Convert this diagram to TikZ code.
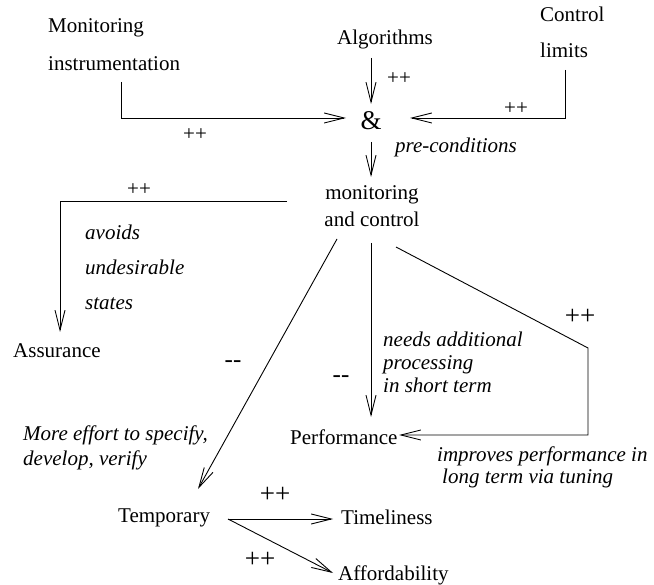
\documentclass[tikz,border=0pt]{standalone}
\usepackage{fontspec}
\setmainfont{Liberation Serif}
\usetikzlibrary{arrows.meta}
\begin{document}
\begin{tikzpicture}[x=1pt,y=-1pt,
  lbl/.style={inner sep=0pt, anchor=base west, font=\fontsize{21}{25}\selectfont},
  note/.style={lbl, font=\fontsize{21}{25}\selectfont\itshape},
  sign/.style={inner sep=0pt, font=\fontsize{21}{25}\selectfont},
  bigsign/.style={inner sep=0pt, font=\fontsize{27}{30}\selectfont},
  minus/.style={inner sep=0pt, anchor=base, font=\fontsize{25}{30}\selectfont},
  link/.style={line width=0.9pt, line join=miter},
  arr/.style={link, -{Straight Barb[length=20pt,width=10pt]}}]
\useasboundingbox (0,0) rectangle (654,585);

% sources
\node[lbl] (mon1) at (48,33) {Monitoring};
\node[lbl] (mon2) at (48,71) {instrumentation};
\node[lbl] (alg) at (337,45) {Algorithms};
\node[lbl] (ctl1) at (540,22) {Control};
\node[lbl] (ctl2) at (540,58) {limits};

% conjunction and the central node
\node[inner sep=0pt, anchor=base, font=\fontsize{27}{30}\selectfont] (and) at (371,130) {\&};
\node[lbl, anchor=base] (mc1) at (372,200) {monitoring};
\node[lbl, anchor=base] (mc2) at (372,227) {and control};

% effects
\node[lbl] (assur) at (13,358) {Assurance};
\node[lbl] (perf) at (290,445) {Performance};
\node[lbl] (temp) at (118,522) {Temporary};
\node[lbl] (time) at (341,525) {Timeliness};
\node[lbl] (afford) at (338,580) {Affordability};

% annotations
\node[note] (pre) at (395,153) {pre-conditions};
\node[note] (av1) at (85,240) {avoids};
\node[note] (av2) at (85,275) {undesirable};
\node[note] (av3) at (85,310) {states};
\node[note] (nd1) at (383,347) {needs additional};
\node[note] (nd2) at (383,370) {processing};
\node[note] (nd3) at (383,393) {in short term};
\node[note] (me1) at (23,441) {More effort to specify,};
\node[note] (me2) at (23,466) {develop, verify};
\node[note] (ip1) at (437,462) {improves performance in};
\node[note] (ip2) at (442,484) {long term via tuning};

% signs
\node[sign] (s1) at (399,79) {++};
\node[sign] (s2) at (516,109) {++};
\node[sign] (s3) at (195,135) {++};
\node[sign] (s4) at (139,190) {++};
\node[minus] (s5) at (233,368) {-{}-};
\node[minus] (s6) at (341,383) {-{}-};
\node[bigsign] (s7) at (580,317) {++};
\node[bigsign] (s8) at (275,495) {++};
\node[bigsign] (s9) at (260,560) {++};

% connector end points
\coordinate (miOut) at (121,82);
\coordinate (miBend) at (121,118);
\coordinate (andW) at (346,118);
\coordinate (algOut) at (371,58);
\coordinate (andN) at (371,104);
\coordinate (clOut) at (565,70);
\coordinate (clBend) at (565,118);
\coordinate (andE) at (410,118);
\coordinate (andS) at (371,142);
\coordinate (mcN) at (371,177);
\coordinate (mcW) at (287,201);
\coordinate (asBend) at (60,201);
\coordinate (asN) at (60,332);
\coordinate (mcSW) at (337,239);
\coordinate (tempN) at (198,489);
\coordinate (mcS) at (371,243);
\coordinate (perfN) at (371,417);
\coordinate (mcSE) at (396,247);
\coordinate (rBend1) at (588,348);
\coordinate (rBend2) at (588,435);
\coordinate (perfE) at (399,435);
\coordinate (tempE) at (228,519);
\coordinate (timeW) at (333,519);
\coordinate (affW) at (333,573);

% connectors
\draw[arr] (miOut) -- (miBend) -- (andW);
\draw[arr] (algOut) -- (andN);
\draw[arr] (clOut) -- (clBend) -- (andE);
\draw[arr] (andS) -- (mcN);
\draw[arr] (mcW) -- (asBend) -- (asN);
\draw[arr] (mcSW) -- (tempN);
\draw[arr] (mcS) -- (perfN);
\draw[arr] (mcSE) -- (rBend1) -- (rBend2) -- (perfE);
\draw[arr] (tempE) -- (timeW);
\draw[arr] (tempE) -- (affW);
\end{tikzpicture}
\end{document}
